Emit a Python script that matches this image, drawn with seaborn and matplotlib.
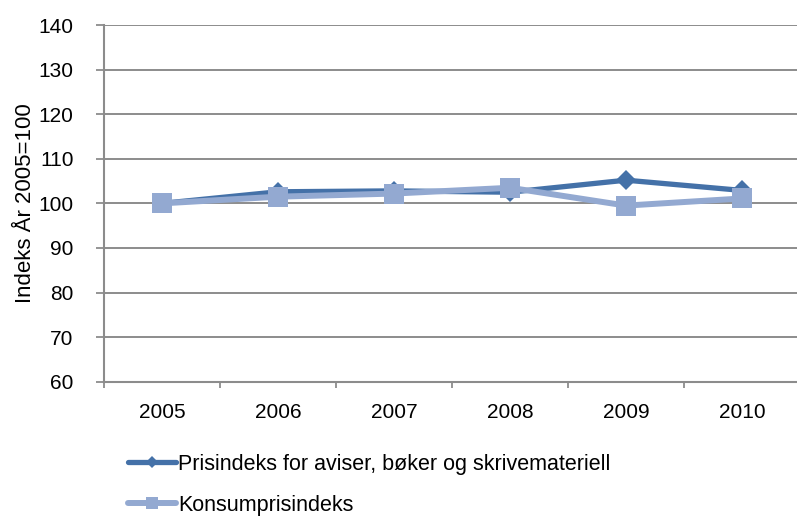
import pandas as pd
import matplotlib
matplotlib.use("Agg")
import matplotlib.pyplot as plt
import seaborn as sns
from matplotlib.ticker import FixedLocator

years = ["2005", "2006", "2007", "2008", "2009", "2010"]
prisindeks = [100.0, 102.6, 102.8, 102.5, 105.2, 102.9]
konsum = [100.0, 101.5, 102.2, 103.5, 99.5, 101.1]
labels = ["Prisindeks for aviser, bøker og skrivemateriell", "Konsumprisindeks"]

sns.set_style("white")
plt.rcParams["font.family"] = ["Liberation Sans", "DejaVu Sans"]
plt.rcParams["text.color"] = "black"
plt.rcParams["axes.labelcolor"] = "black"
plt.rcParams["xtick.labelcolor"] = "black"
plt.rcParams["ytick.labelcolor"] = "black"

fig = plt.figure(figsize=(7.97, 5.18), dpi=100)
ax = fig.add_axes([0.1305, 0.2631, 0.8695, 0.6886])

df1 = pd.DataFrame({"year": years, "value": prisindeks})
df2 = pd.DataFrame({"year": years, "value": konsum})

# dark line first, light squares drawn on top
sns.lineplot(data=df1, x="year", y="value", ax=ax, color="#4471A8", linewidth=3.8,
             marker="D", markersize=10, markeredgewidth=0, label=labels[0], zorder=3)
sns.lineplot(data=df2, x="year", y="value", ax=ax, color="#93A9D1", linewidth=4.3,
             marker="s", markersize=14, markeredgewidth=0, label=labels[1], zorder=4)

ax.set_ylim(60, 140)
ax.set_yticks(range(60, 141, 10))
ax.set_xlim(-0.5, 5.474)
ax.set_xticks(range(len(years)))
ax.set_xticklabels(years)
ax.xaxis.set_minor_locator(FixedLocator([i - 0.5 for i in range(len(years) + 1)]))

ax.grid(axis="y", color="#8c8c8c", linewidth=1.4)
ax.set_axisbelow(True)
for s in ["top", "right"]:
    ax.spines[s].set_visible(False)
for s in ["left", "bottom"]:
    ax.spines[s].set_color("#8c8c8c")
    ax.spines[s].set_linewidth(1.5)

ax.tick_params(axis="y", which="major", length=6, width=1.3, color="#8c8c8c", pad=16,
               labelsize=15, direction="out", left=True)
ax.tick_params(axis="x", which="major", length=0, pad=15, labelsize=15)
ax.tick_params(axis="x", which="minor", length=4, width=1.3, color="#8c8c8c",
               direction="out", bottom=True)

ax.set_xlabel("")
ax.set_ylabel("Indeks År 2005=100", fontsize=16, labelpad=2)

# legend below the plot
ax.get_legend().remove()
handles, lbls = ax.get_legend_handles_labels()
fig.legend(handles, lbls, loc="center left", bbox_to_anchor=(0.1606, 0.064), frameon=False,
           fontsize=15.5, handlelength=2.23, handletextpad=0.09, labelspacing=0.92,
           markerscale=0.65, borderaxespad=0, borderpad=0)

fig.savefig("out.png", dpi=100)
